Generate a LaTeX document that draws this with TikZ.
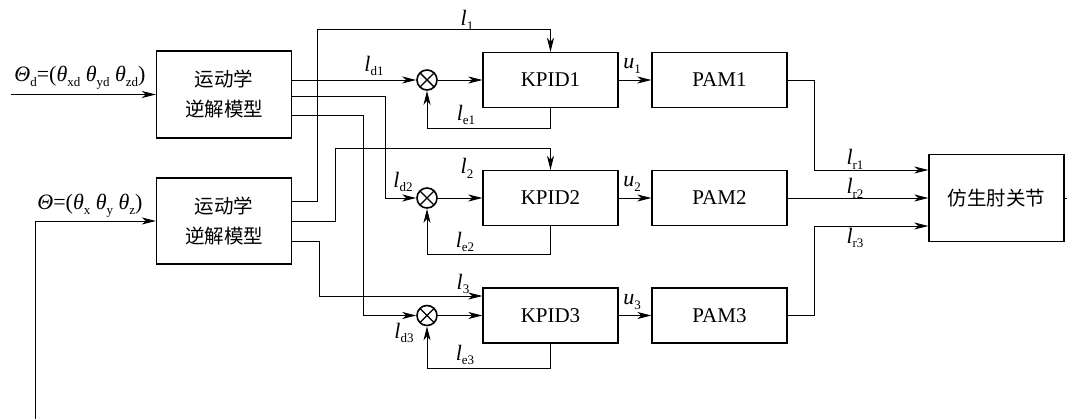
\documentclass[tikz,border=0pt]{standalone}
\usepackage{fontspec}
\setmainfont{Liberation Serif}
\newfontfamily\cjk{Noto Sans CJK SC}
\usetikzlibrary{arrows.meta}
\newcommand\sbs[1]{\raisebox{-0.22em}{\fontsize{13}{13}\selectfont #1}}
\newcommand\sv[2]{\textit{#1}\sbs{#2}}
\begin{document}
\begin{tikzpicture}[x=1pt,y=-1pt,
  box/.style={draw,line width=1.4pt,minimum width=135pt,minimum height=55pt,inner sep=0pt,font=\fontsize{21}{24}\selectfont},
  cbox/.style={box,align=center,font=\cjk\fontsize{19.5}{30}\selectfont},
  sumnode/.style={draw,circle,line width=1.6pt,minimum size=20pt,inner sep=0pt,
    path picture={\draw[line width=1.4pt] (path picture bounding box.north west)--(path picture bounding box.south east)
      (path picture bounding box.north east)--(path picture bounding box.south west);}},
  arr/.style={line width=0.9pt,-{Stealth[length=14pt,width=7pt,inset=4pt]}},
  ln/.style={line width=0.9pt},
  lab/.style={inner sep=0pt,font=\fontsize{22}{24}\selectfont}]
\useasboundingbox (0,0) rectangle (1067,419);
% blocks
\node[cbox,minimum height=87pt] (ik1) at (224,94.5) {运动学\\逆解模型};
\node[cbox,minimum height=86pt] (ik2) at (224,221) {运动学\\逆解模型};
\node[box] (k1) at (550.5,80) {KPID1};
\node[box] (k2) at (550.5,198) {KPID2};
\node[box] (k3) at (550.5,315.5) {KPID3};
\node[box] (p1) at (719.5,80) {PAM1};
\node[box] (p2) at (719.5,198) {PAM2};
\node[box] (p3) at (719.5,315.5) {PAM3};
\node[cbox,minimum height=87pt] (j) at (996.5,198) {仿生肘关节};
\node[sumnode] (s1) at (427,80) {};
\node[sumnode] (s2) at (427,198) {};
\node[sumnode] (s3) at (427,315.5) {};
\coordinate (in1) at (11,94.5);
\coordinate (fb) at (35.5,419);
\coordinate (out) at (1067,198);
% inputs
\draw[arr] (in1) -- (ik1.west);
\draw[arr] (fb) |- (ik2.west);
\draw[ln] (j.east) -- (out);
% IK1 outputs
\draw[arr] (ik1.east |- s1) -- (s1.west);
\draw[arr] (ik1.east |- 0,96) -- (385,96) |- (s2.west);
\draw[arr] (ik1.east |- 0,115) -- (363,115) |- (s3.west);
% IK2 outputs
\draw[arr] (ik2.east |- 0,201) -- (317,201) |- (k1.north |- 0,29) -- (k1.north);
\draw[arr] (ik2.east |- 0,221) -- (335,221) |- (k2.north |- 0,148) -- (k2.north);
\draw[arr] (ik2.east |- 0,241) -- (319,241) |- (k3.west |- 0,296);
% sum to KPID
\draw[arr] (s1.east) -- (k1.west);
\draw[arr] (s2.east) -- (k2.west);
\draw[arr] (s3.east) -- (k3.west);
% feedback
\draw[arr] (k1.south) -- ++(0,20) -| (s1.south);
\draw[arr] (k2.south) -- ++(0,28) -| (s2.south);
\draw[arr] (k3.south) -- ++(0,25) -| (s3.south);
% KPID to PAM
\draw[arr] (k1.east) -- (p1.west);
\draw[arr] (k2.east) -- (p2.west);
\draw[arr] (k3.east) -- (p3.west);
% PAM to joint
\draw[arr] (p1.east) -- (814,80) |- (j.west |- 0,170);
\draw[arr] (p2.east) -- (j.west);
\draw[arr] (p3.east) -- (814,315.5) |- (j.west |- 0,226);
% labels
\node[lab] (tin1) at (80,78) {\textit{Θ}\sbs{d}=(\textit{θ}\sbs{xd} \textit{θ}\sbs{yd} \textit{θ}\sbs{zd})};
\node[lab] (tin2) at (90,206) {\textit{Θ}=(\textit{θ}\sbs{x} \textit{θ}\sbs{y} \textit{θ}\sbs{z})};
\node[lab] (tl1) at (467,20) {\sv{l}{1}};
\node[lab] (tl2) at (467,168) {\sv{l}{2}};
\node[lab] (tl3) at (463,284) {\sv{l}{3}};
\node[lab] (tld1) at (374,66) {\sv{l}{d1}};
\node[lab] (tld2) at (403,182) {\sv{l}{d2}};
\node[lab] (tld3) at (404,333) {\sv{l}{d3}};
\node[lab] (tle1) at (466,115) {\sv{l}{e1}};
\node[lab] (tle2) at (465,242) {\sv{l}{e2}};
\node[lab] (tle3) at (465,355) {\sv{l}{e3}};
\node[lab] (tu1) at (632,66) {\sv{u}{1}};
\node[lab] (tu2) at (632,184) {\sv{u}{2}};
\node[lab] (tu3) at (632,302) {\sv{u}{3}};
\node[lab] (tr1) at (855,159) {\sv{l}{r1}};
\node[lab] (tr2) at (855,188) {\sv{l}{r2}};
\node[lab] (tr3) at (855,238) {\sv{l}{r3}};
\end{tikzpicture}
\end{document}
